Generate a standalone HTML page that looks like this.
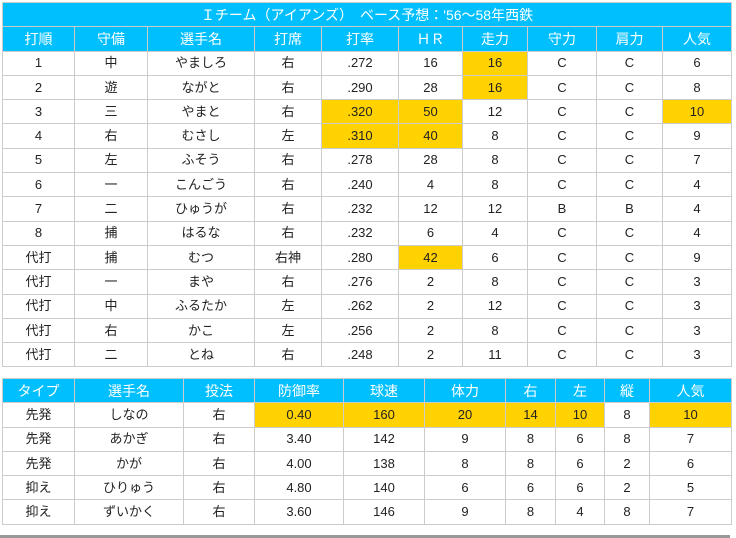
<!DOCTYPE html>
<html><head><meta charset="utf-8"><style>
body{margin:0;background:#fff;width:736px;height:538px;overflow:hidden;font-family:"Liberation Sans","Noto Sans CJK JP",sans-serif;font-size:13px;color:#222}
table{position:absolute;left:2px;border-collapse:collapse;table-layout:fixed}
td{border:1px solid #ccc;text-align:center;padding:0;height:23.3px;line-height:14px;white-space:nowrap}
.h td{background:#00bfff;color:#fff;font-size:14px}
.t td{background:#00bfff;color:#fff;font-size:14px}
.y{background:#ffd200}
#t1{top:2px;width:729px}
#t2{top:378px;width:729px}
.bar{position:absolute;left:0;top:535px;width:730px;height:3px;background:#999}
</style></head><body>
<table id="t1">
<colgroup><col style="width:72px"><col style="width:73px"><col style="width:107px"><col style="width:67px"><col style="width:77px"><col style="width:64px"><col style="width:65px"><col style="width:69px"><col style="width:66px"><col style="width:69px"></colgroup>
<tr class="t"><td colspan="10">Ｉチーム（アイアンズ）　ベース予想：'56～58年西鉄</td></tr>
<tr class="h"><td>打順</td><td>守備</td><td>選手名</td><td>打席</td><td>打率</td><td>ＨＲ</td><td>走力</td><td>守力</td><td>肩力</td><td>人気</td></tr>
<tr><td>1</td><td>中</td><td>やましろ</td><td>右</td><td>.272</td><td>16</td><td class="y">16</td><td>C</td><td>C</td><td>6</td></tr>
<tr><td>2</td><td>遊</td><td>ながと</td><td>右</td><td>.290</td><td>28</td><td class="y">16</td><td>C</td><td>C</td><td>8</td></tr>
<tr><td>3</td><td>三</td><td>やまと</td><td>右</td><td class="y">.320</td><td class="y">50</td><td>12</td><td>C</td><td>C</td><td class="y">10</td></tr>
<tr><td>4</td><td>右</td><td>むさし</td><td>左</td><td class="y">.310</td><td class="y">40</td><td>8</td><td>C</td><td>C</td><td>9</td></tr>
<tr><td>5</td><td>左</td><td>ふそう</td><td>右</td><td>.278</td><td>28</td><td>8</td><td>C</td><td>C</td><td>7</td></tr>
<tr><td>6</td><td>一</td><td>こんごう</td><td>右</td><td>.240</td><td>4</td><td>8</td><td>C</td><td>C</td><td>4</td></tr>
<tr><td>7</td><td>二</td><td>ひゅうが</td><td>右</td><td>.232</td><td>12</td><td>12</td><td>B</td><td>B</td><td>4</td></tr>
<tr><td>8</td><td>捕</td><td>はるな</td><td>右</td><td>.232</td><td>6</td><td>4</td><td>C</td><td>C</td><td>4</td></tr>
<tr><td>代打</td><td>捕</td><td>むつ</td><td>右神</td><td>.280</td><td class="y">42</td><td>6</td><td>C</td><td>C</td><td>9</td></tr>
<tr><td>代打</td><td>一</td><td>まや</td><td>右</td><td>.276</td><td>2</td><td>8</td><td>C</td><td>C</td><td>3</td></tr>
<tr><td>代打</td><td>中</td><td>ふるたか</td><td>左</td><td>.262</td><td>2</td><td>12</td><td>C</td><td>C</td><td>3</td></tr>
<tr><td>代打</td><td>右</td><td>かこ</td><td>左</td><td>.256</td><td>2</td><td>8</td><td>C</td><td>C</td><td>3</td></tr>
<tr><td>代打</td><td>二</td><td>とね</td><td>右</td><td>.248</td><td>2</td><td>11</td><td>C</td><td>C</td><td>3</td></tr>
</table>
<table id="t2">
<colgroup><col style="width:72px"><col style="width:109px"><col style="width:71px"><col style="width:89px"><col style="width:81px"><col style="width:81px"><col style="width:50px"><col style="width:49px"><col style="width:45px"><col style="width:82px"></colgroup>
<tr class="h"><td>タイプ</td><td>選手名</td><td>投法</td><td>防御率</td><td>球速</td><td>体力</td><td>右</td><td>左</td><td>縦</td><td>人気</td></tr>
<tr><td>先発</td><td>しなの</td><td>右</td><td class="y">0.40</td><td class="y">160</td><td class="y">20</td><td class="y">14</td><td class="y">10</td><td>8</td><td class="y">10</td></tr>
<tr><td>先発</td><td>あかぎ</td><td>右</td><td>3.40</td><td>142</td><td>9</td><td>8</td><td>6</td><td>8</td><td>7</td></tr>
<tr><td>先発</td><td>かが</td><td>右</td><td>4.00</td><td>138</td><td>8</td><td>8</td><td>6</td><td>2</td><td>6</td></tr>
<tr><td>抑え</td><td>ひりゅう</td><td>右</td><td>4.80</td><td>140</td><td>6</td><td>6</td><td>6</td><td>2</td><td>5</td></tr>
<tr><td>抑え</td><td>ずいかく</td><td>右</td><td>3.60</td><td>146</td><td>9</td><td>8</td><td>4</td><td>8</td><td>7</td></tr>
</table>
<div class="bar"></div>
</body></html>
